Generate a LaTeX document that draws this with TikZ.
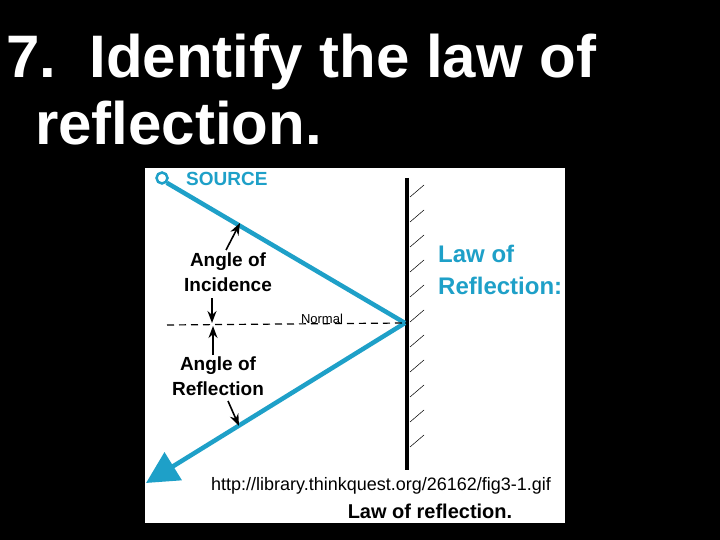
\documentclass[tikz,border=0pt]{standalone}
\usepackage{fontspec}
\setmainfont{Liberation Sans}
\usetikzlibrary{arrows.meta}
\definecolor{ray}{RGB}{30,160,200}
\begin{document}
\begin{tikzpicture}[x=1pt,y=-1pt,
  rayline/.style={ray,line width=4.5pt},
  lbl/.style={inner sep=0pt,align=center,font=\bfseries\fontsize{19}{25}\selectfont},
  pointer/.style={-{Stealth[length=12pt,width=9pt]},line width=1.6pt}]
\fill[black] (0,0) rectangle (720,540);
\useasboundingbox (0,0) rectangle (720,540);
\fill[white] (145,168) rectangle (565,523);
\node[anchor=base west,white,inner sep=0pt,font=\bfseries\fontsize{60}{60}\selectfont] (t1) at (6,78) {7.\ \ Identify the law of};
\node[anchor=base west,white,inner sep=0pt,font=\bfseries\fontsize{60}{60}\selectfont] (t2) at (35,145) {reflection.};
% mirror
\draw[line width=4pt] (407,178) -- (407,470);
\foreach \y in {197,222,...,460} \draw[line width=0.5pt] (410,\y) -- (424,\y-12);
% rays
\coordinate (P) at (405,323);
\node[draw=ray,line width=2.5pt,circle,minimum size=11pt,inner sep=0pt] (src) at (162,178) {};
\draw[rayline] (src.south east) -- (P);
\coordinate (tip) at (146,483);
\draw[rayline,-{Triangle[length=32pt,width=32pt]}] (P) -- (tip);
\node[anchor=west,ray,inner sep=0pt,font=\bfseries\fontsize{19}{22}\selectfont] (srcl) at (186,179) {SOURCE};
% normal
\coordinate (n1) at (167,325);
\draw[line width=1.2pt,dash pattern=on 7pt off 5pt] (n1) -- (P);
\node[anchor=base,inner sep=0pt,font=\fontsize{13}{15}\selectfont] (nl) at (322,323) {Normal};
% labels
\node[lbl] (ai) at (228,272) {Angle of\\Incidence};
\node[lbl] (ar) at (218,376) {Angle of\\Reflection};
\coordinate (a1s) at (226,250); \coordinate (a1e) at (240,223);
\draw[pointer] (a1s) -- (a1e);
\coordinate (a2s) at (212,298); \coordinate (a2e) at (212,323);
\draw[pointer] (a2s) -- (a2e);
\coordinate (a3s) at (213,355); \coordinate (a3e) at (213,326);
\draw[pointer] (a3s) -- (a3e);
\coordinate (a4s) at (228,401); \coordinate (a4e) at (239,426);
\draw[pointer] (a4s) -- (a4e);
\node[anchor=north west,ray,inner sep=0pt,align=left,font=\bfseries\fontsize{24}{32}\selectfont] (law) at (438,245) {Law of\\Reflection:};
\node[anchor=base,inner sep=0pt,font=\fontsize{18}{20}\selectfont] (url) at (381,490) {http://library.thinkquest.org/26162/fig3-1.gif};
\node[anchor=base,inner sep=0pt,font=\bfseries\fontsize{20}{22}\selectfont] (cap) at (430,518) {Law of reflection.};
\end{tikzpicture}
\end{document}
